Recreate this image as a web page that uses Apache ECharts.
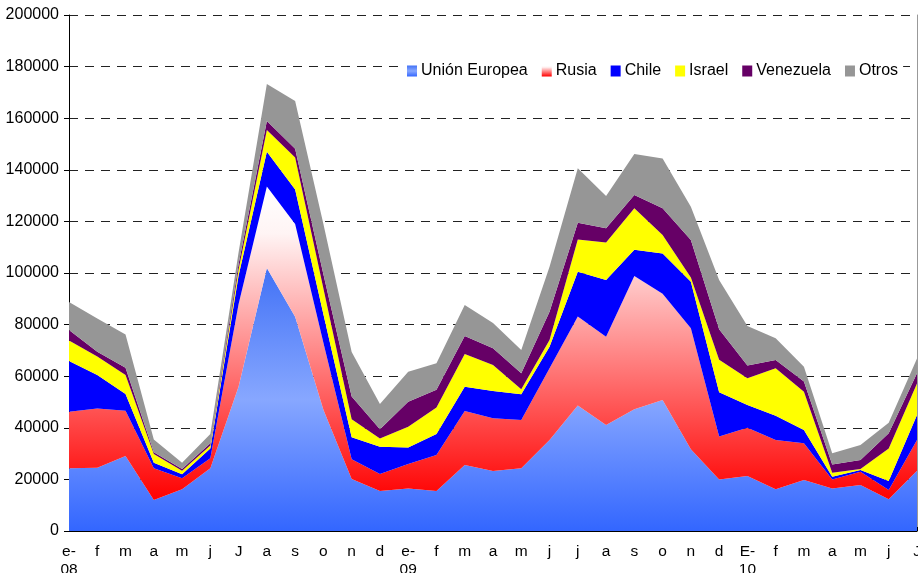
<!DOCTYPE html>
<html>
<head>
<meta charset="utf-8">
<script src="https://cdn.jsdelivr.net/npm/echarts@6/dist/echarts.min.js"></script>
<style>
  html, body { margin: 0; padding: 0; background: #fff; }
  #main { width: 918px; height: 573px; }
</style>
</head>
<body>
<div id="main"></div>
<script>
// meses (ene-08 .. jul-10)
var meses = ['e-\n08', 'f', 'm', 'a', 'm', 'j', 'J', 'a', 's', 'o', 'n', 'd',
  'e-\n09', 'f', 'm', 'a', 'm', 'j', 'j', 'a', 's', 'o', 'n', 'd',
  'E-\n10', 'f', 'm', 'a', 'm', 'j', 'J']

// valores por origen (apilados)
var unionEuropea = [24300, 24500, 29100, 12000, 16200, 24300, 56000, 101900, 83000, 47000, 20200, 15500,
  16500, 15500, 25600, 23300, 24300, 35300, 48600, 41100, 47200, 50800, 31700, 20000,
  21300, 16200, 19800, 16500, 17800, 12300, 23400]
var rusia = [21900, 23000, 17500, 12300, 4200, 3900, 32000, 31600, 36000, 26000, 7600, 6600,
  9500, 14000, 20900, 20400, 18700, 27800, 34500, 34200, 51600, 41200, 46900, 16600,
  18700, 19100, 14200, 3500, 5200, 3600, 11900]
var chile = [19700, 13000, 6500, 2200, 1600, 3800, 11000, 13500, 13400, 11000, 8500, 10600,
  6400, 8100, 9400, 10600, 10000, 8300, 17400, 22000, 10200, 15600, 18000, 17200,
  8800, 9400, 5100, 1000, 600, 3500, 9700]
var israel = [7900, 7100, 7400, 3300, 1400, 1100, 2500, 8400, 12400, 10000, 7000, 3200,
  8000, 10300, 12700, 10000, 1900, 2600, 12500, 14500, 16100, 7100, 1700, 12600,
  10400, 18400, 14900, 1600, 400, 12600, 12200]
var venezuela = [4100, 1900, 2800, 700, 600, 900, 2000, 3500, 3400, 5500, 8800, 3500,
  9700, 6800, 7000, 6500, 6200, 11000, 6500, 5500, 5100, 10400, 14500, 11800,
  4900, 3200, 3900, 3200, 3500, 5900, 3900]
var otros = [10900, 12900, 12900, 5000, 2500, 3600, 4500, 14400, 18500, 19500, 17300, 9800,
  11600, 10300, 12000, 9800, 9100, 17400, 21100, 12500, 15900, 19300, 12900, 19100,
  15400, 8400, 5800, 4300, 5800, 4100, 5800]

var fuente = 'Liberation Sans, Arial, sans-serif'

var gradUE = new echarts.graphic.LinearGradient(0, 0, 0, 1, [
  { offset: 0, color: '#4272f6' },
  { offset: 0.5, color: '#87a7ff' },
  { offset: 1, color: '#3366ff' }
])
var gradRusia = new echarts.graphic.LinearGradient(0, 0, 0, 1, [
  { offset: 0, color: '#ffffff' },
  { offset: 0.15, color: '#fff4f4' },
  { offset: 1, color: '#ff0000' }
])

var nombres = ['Unión Europea', 'Rusia', 'Chile', 'Israel', 'Venezuela', 'Otros']
var colores = [gradUE, gradRusia, '#0000ff', '#ffff00', '#660066', '#969696']
var datos = [unionEuropea, rusia, chile, israel, venezuela, otros]

var series = nombres.map(function (n, i) {
  return {
    name: n,
    type: 'line',
    stack: 'total',
    data: datos[i],
    showSymbol: false,
    symbol: 'none',
    lineStyle: { width: 0 },
    itemStyle: { color: colores[i] },
    areaStyle: { color: colores[i], opacity: 1 },
    emphasis: { disabled: true }
  }
})

var chart = echarts.init(document.getElementById('main'))
chart.setOption({
  animation: false,
  backgroundColor: '#fff',
  grid: { left: 69, right: 1, top: 15, bottom: 42, outerBoundsMode: 'none', containLabel: false },
  legend: {
    left: 402,
    top: 59,
    padding: [4, 5],
    backgroundColor: '#fff',
    itemWidth: 10,
    itemHeight: 11,
    itemGap: 14,
    icon: 'rect',
    textStyle: { fontFamily: fuente, fontSize: 16, color: '#000', padding: [0, 0, 0, -1] },
    data: nombres.map(function (n, i) {
      return { name: n, itemStyle: { color: colores[i] } }
    })
  },
  xAxis: {
    type: 'category',
    boundaryGap: false,
    data: meses,
    axisLine: { lineStyle: { color: '#000', width: 1 } },
    axisTick: { inside: true, length: 4, interval: 0, lineStyle: { color: '#000' } },
    axisLabel: {
      interval: 0,
      margin: 12,
      fontFamily: fuente,
      fontSize: 15.5,
      lineHeight: 18,
      color: '#000'
    },
    splitLine: { show: false }
  },
  yAxis: [{
    type: 'value',
    min: 0,
    max: 200000,
    interval: 20000,
    axisLine: { show: true, lineStyle: { color: '#000', width: 1 } },
    axisTick: { show: true, length: 5, lineStyle: { color: '#000' } },
    axisLabel: {
      margin: 10,
      fontFamily: fuente,
      fontSize: 16,
      color: '#000',
      formatter: function (v) { return String(v) }
    },
    splitLine: { show: true, lineStyle: { color: '#222', type: [9, 7], width: 1 } }
  }, {
    type: 'value',
    position: 'right',
    min: 0,
    max: 200000,
    axisLine: { show: true, lineStyle: { color: '#999', width: 1 } },
    axisTick: { show: false },
    axisLabel: { show: false },
    splitLine: { show: false }
  }],
  series: series
})
</script>
</body>
</html>
